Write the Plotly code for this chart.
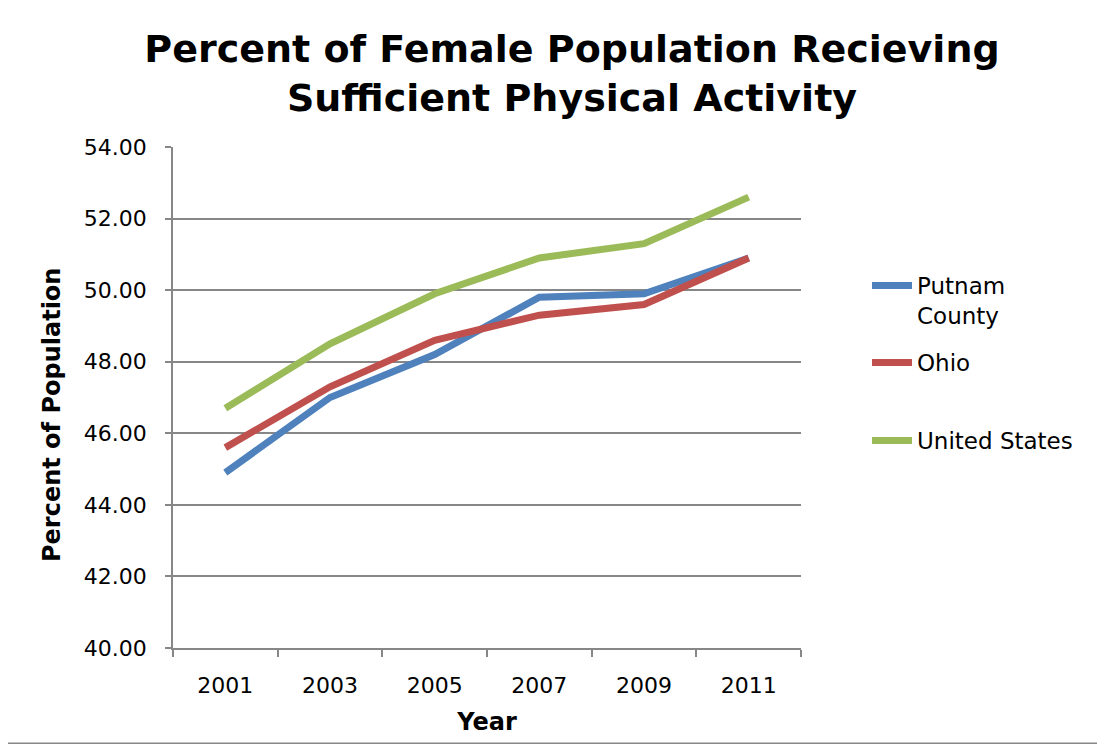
import plotly.graph_objects as go

years = ["2001", "2003", "2005", "2007", "2009", "2011"]
putnam = [44.9, 47.0, 48.2, 49.8, 49.9, 50.9]
ohio = [45.6, 47.3, 48.6, 49.3, 49.6, 50.9]
usa = [46.7, 48.5, 49.9, 50.9, 51.3, 52.6]
series_names = ["Putnam<br>County", "Ohio", "United States"]
colors = ["#4F81BD", "#C0504D", "#9BBB59"]

W, H = 1105, 744
OFF = 8  # page body margin offset
L, R, T, B = 173, 801, 147, 648  # plot area in page px
pw, ph = R - L, B - T

def px_x(x):
    return (x - L) / pw

def px_y(y):
    return (B - y) / ph

fig = go.Figure()
legends = ["legend", "legend2", "legend3"]
for name, vals, col, lg in zip(series_names, [putnam, ohio, usa], colors, legends):
    fig.add_trace(go.Scatter(
        x=years, y=vals, mode="lines", name=name,
        line=dict(color=col, width=7),
        legend=lg, showlegend=True,
    ))

grid = "#878787"
font_main = "DejaVu Sans"

leg_y = [264, 341, 419]
layout_legends = {}
for lg, yy in zip(legends, leg_y):
    layout_legends[lg] = dict(
        x=px_x(867), y=px_y(yy), xanchor="left", yanchor="top",
        xref="paper", yref="paper",
        font=dict(family=font_main, size=23, color="#000000"),
        bgcolor="rgba(0,0,0,0)", valign="top",
        itemwidth=40,
    )

fig.update_layout(
    width=W, height=H,
    margin=dict(l=L - OFF, r=W - R + OFF, t=T - OFF, b=H - B + OFF, pad=0),
    paper_bgcolor="white", plot_bgcolor="white",
    title=dict(
        text="Percent of Female Population Recieving<br>Sufficient Physical Activity",
        x=(572 - OFF) / W, xanchor="center", xref="container",
        y=1 - (62 - OFF) / H, yanchor="middle", yref="container",
        font=dict(family=font_main, size=38, color="#000000", weight="bold"),
    ),
    font=dict(family=font_main, color="#000000"),
    **layout_legends,
)

fig.update_xaxes(
    type="category", range=[-0.5, 5.5],
    showline=True, linecolor=grid, linewidth=1.5,
    ticks="outside", tickson="boundaries", ticklen=7, tickcolor=grid, tickwidth=1.5,
    showgrid=False, zeroline=False,
    tickfont=dict(family=font_main, size=22, color="#000000"),
    ticklabelstandoff=17,
    title=dict(text="Year", font=dict(family=font_main, size=24, color="#000000", weight="bold"),
               standoff=16),
)
fig.update_yaxes(
    range=[40, 54], dtick=2, tickformat=".2f",
    showline=True, linecolor=grid, linewidth=1.5,
    ticks="outside", ticklen=6, tickcolor=grid, tickwidth=1.5,
    showgrid=True, gridcolor=grid, gridwidth=1.5, zeroline=False,
    tickfont=dict(family=font_main, size=22, color="#000000"),
    ticklabelstandoff=14,
)

fig.add_annotation(
    text="Percent of Population", textangle=-90,
    xref="paper", yref="paper", x=px_x(52), y=px_y(415),
    xanchor="center", yanchor="middle", showarrow=False,
    font=dict(family=font_main, size=24, color="#000000", weight="bold"),
)

fig.add_shape(
    type="rect", xref="paper", yref="paper",
    x0=px_x(0.75), x1=px_x(W - 0.75), y0=px_y(H - 0.75), y1=px_y(0.75),
    line=dict(color=grid, width=1.5), fillcolor="rgba(0,0,0,0)", layer="below",
)

fig.write_html("out.html")
